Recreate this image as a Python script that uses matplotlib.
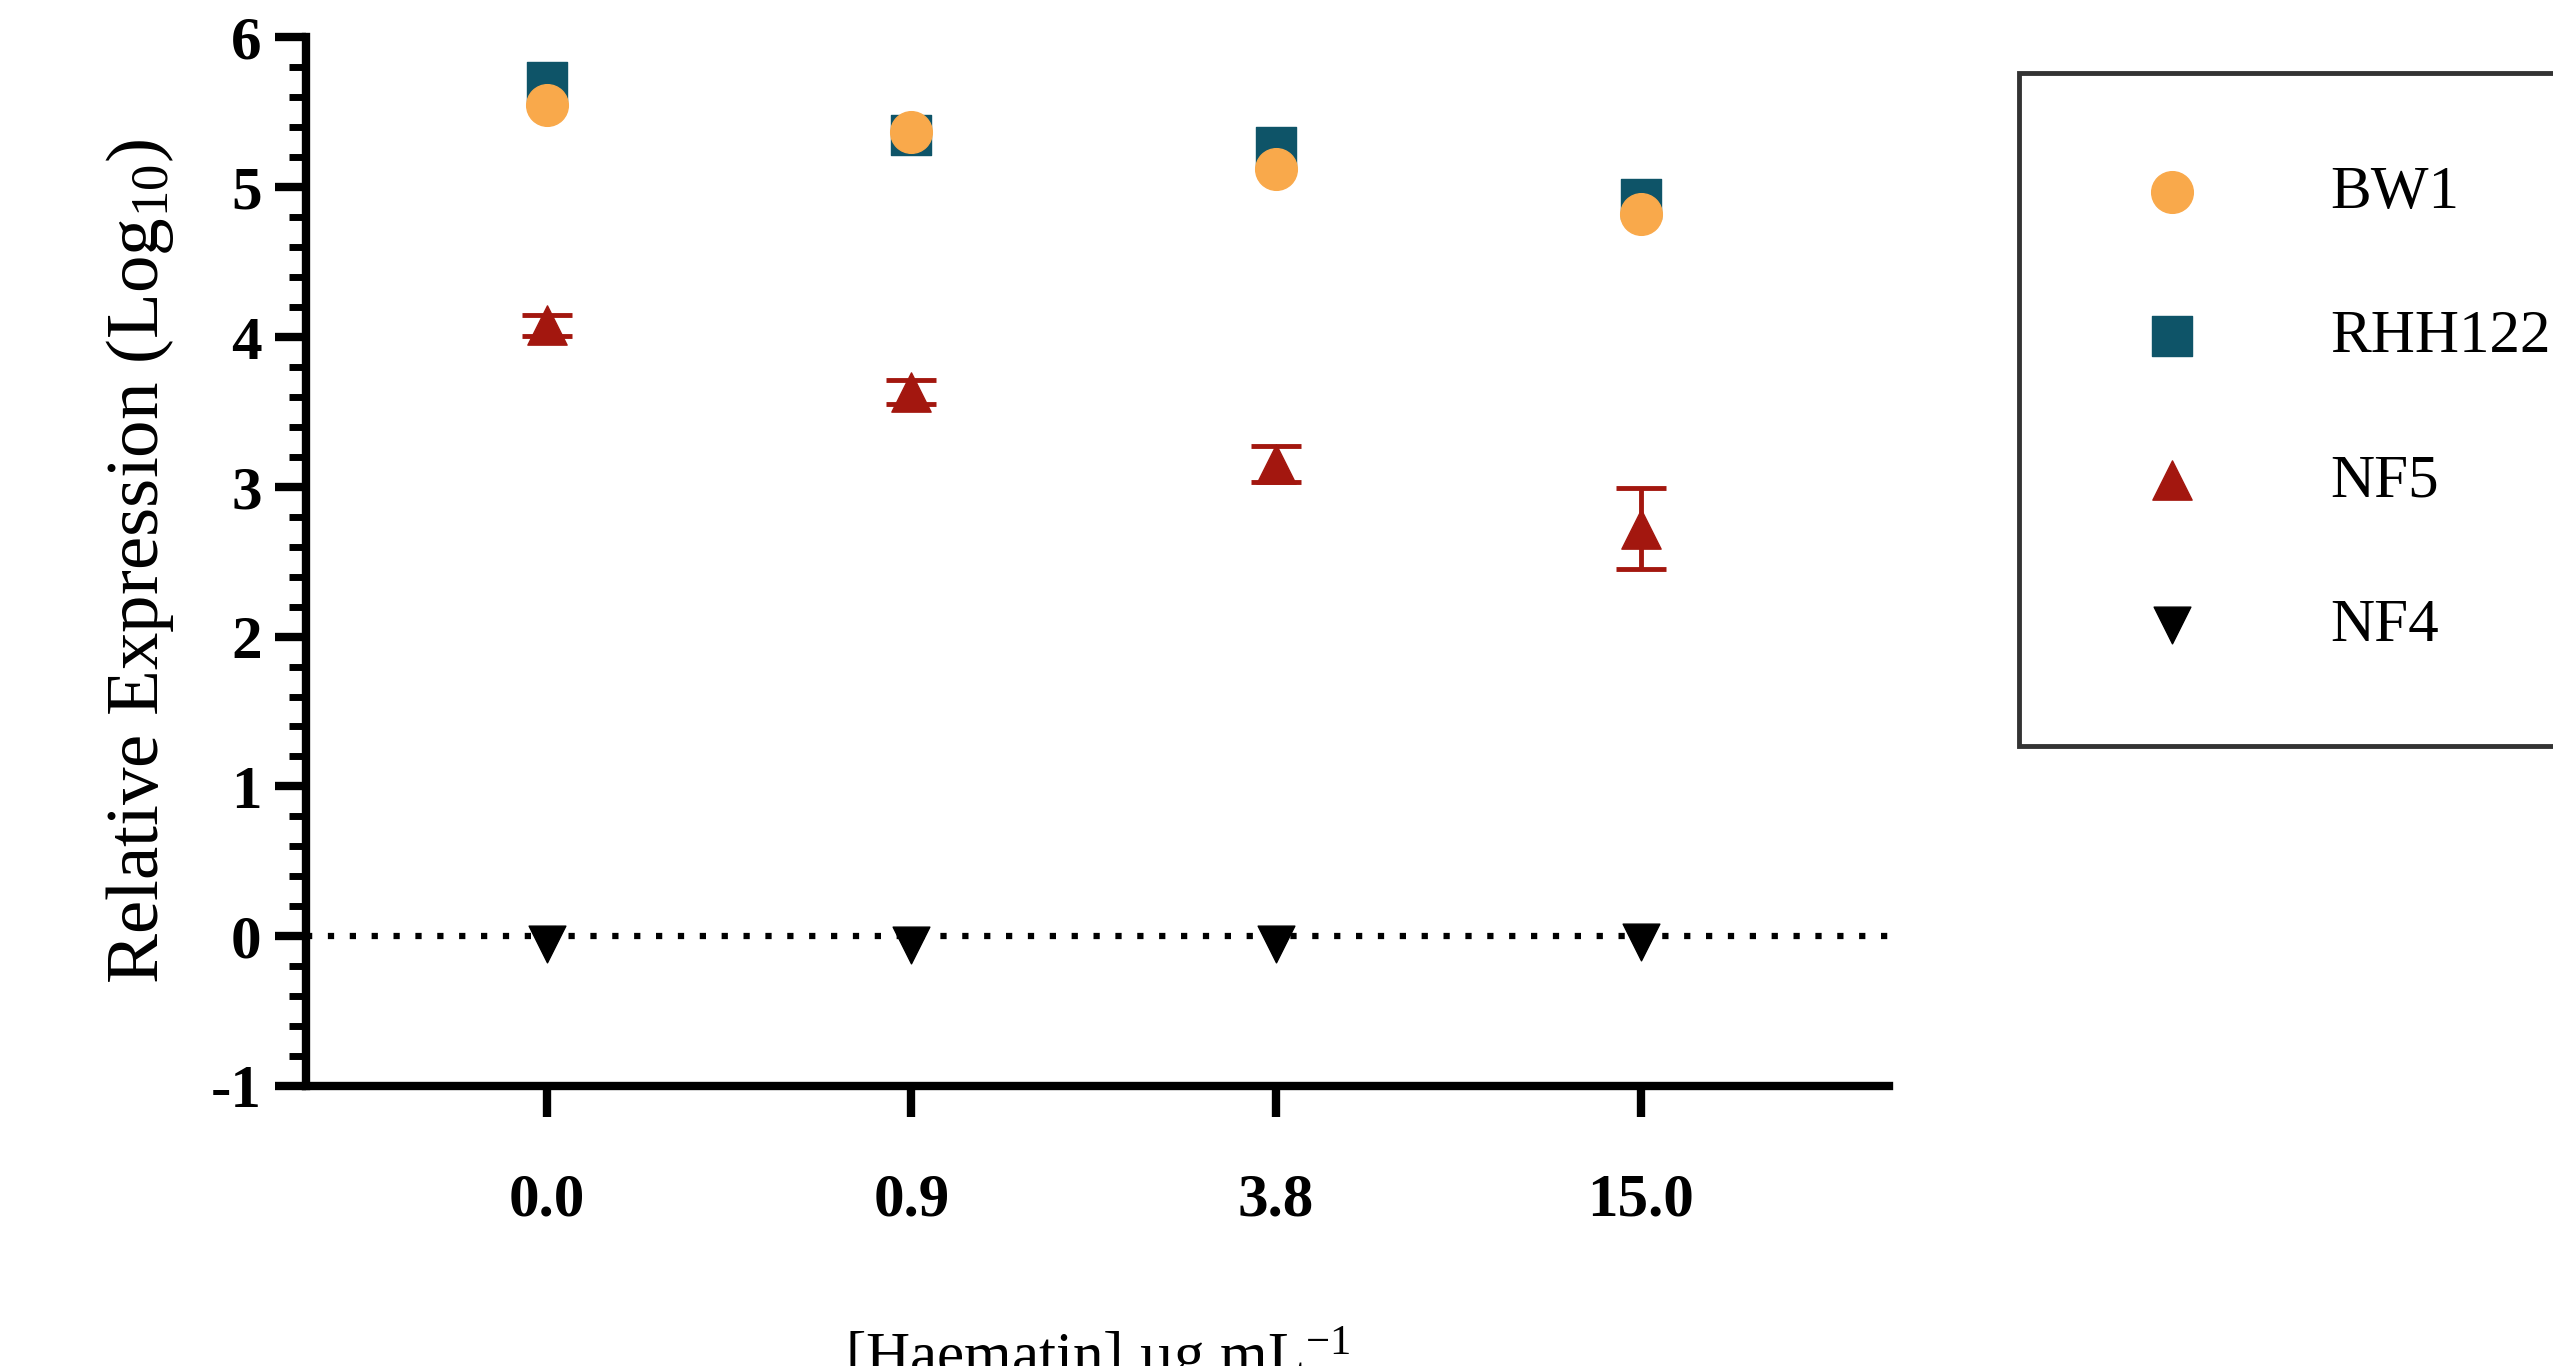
import numpy as np
import matplotlib.pyplot as plt
from matplotlib.ticker import MultipleLocator

plt.rcParams['font.family'] = ['Liberation Serif', 'DejaVu Serif']
plt.rcParams['axes.unicode_minus'] = False
plt.rcParams['mathtext.fontset'] = 'custom'
plt.rcParams['mathtext.rm'] = 'Liberation Serif'
plt.rcParams['mathtext.it'] = 'Liberation Serif:italic'

doses = ['0.0', '0.9', '3.8', '15.0']
bw1 = [5.55, 5.37, 5.12, 4.82]
rhh122 = [5.70, 5.35, 5.27, 4.92]
nf5 = [4.08, 3.63, 3.15, 2.72]
nf5_err = [0.07, 0.08, 0.12, 0.27]
nf4 = [-0.05, -0.06, -0.05, -0.04]

W, H = 1568, 839  # reference layout measured at this scale
fig = plt.figure(figsize=(25.53, 13.66), dpi=100)
ax = fig.add_axes([188/W, 1-667/H, (1160-188)/W, (667-23)/H])

x = np.arange(len(doses))
ax.axhline(0, color='black', linestyle=(0, (1, 2.5)), linewidth=4.5, zorder=1)
ax.scatter(x, rhh122, marker='s', s=800, color='#0e5468', label='RHH122', zorder=3)
ax.scatter(x, bw1, marker='o', s=900, color='#f9a94b', label='BW1', zorder=4)
ax.errorbar(x, nf5, yerr=nf5_err, fmt='none', ecolor='#a3170f', elinewidth=3.5, capsize=18, capthick=3.5, zorder=2)
ax.scatter(x, nf5, marker='^', s=800, color='#a3170f', label='NF5', zorder=3)
ax.scatter(x, nf4, marker='v', s=700, color='black', label='NF4', zorder=3)

ax.set_xlim(-0.66, 3.68)
ax.set_ylim(-1, 6)
ax.set_xticks(x)
ax.set_xticklabels(doses, fontweight='bold', fontsize=44)
ax.yaxis.set_major_locator(MultipleLocator(1))
ax.yaxis.set_minor_locator(MultipleLocator(0.2))
ax.tick_params(axis='y', labelsize=44, width=6, length=22, pad=10)
ax.tick_params(axis='y', which='minor', width=5, length=12)
ax.tick_params(axis='x', width=6, length=22, pad=40)
for lab in ax.get_yticklabels():
    lab.set_fontweight('bold')
for s in ['top', 'right']:
    ax.spines[s].set_visible(False)
for s in ['left', 'bottom']:
    ax.spines[s].set_linewidth(6)

ax.set_ylabel('Relative Expression (Log$_{10}$)', fontsize=54, labelpad=25)
ax.set_xlabel('[Haematin] µg mL$^{-1}$', fontsize=44, labelpad=70)

h, l = ax.get_legend_handles_labels()
order = [l.index(n) for n in ['BW1', 'RHH122', 'NF5', 'NF4']]
leg = fig.legend([h[i] for i in order], [l[i] for i in order], loc='upper left',
                 bbox_to_anchor=(1240/W, 1-45/H), fontsize=44, frameon=True,
                 fancybox=False, edgecolor='black', labelspacing=1.45, borderpad=1.5,
                 handletextpad=1.6, borderaxespad=0)
leg.get_frame().set_linewidth(3.5)

fig.savefig('out.png', dpi=100)
